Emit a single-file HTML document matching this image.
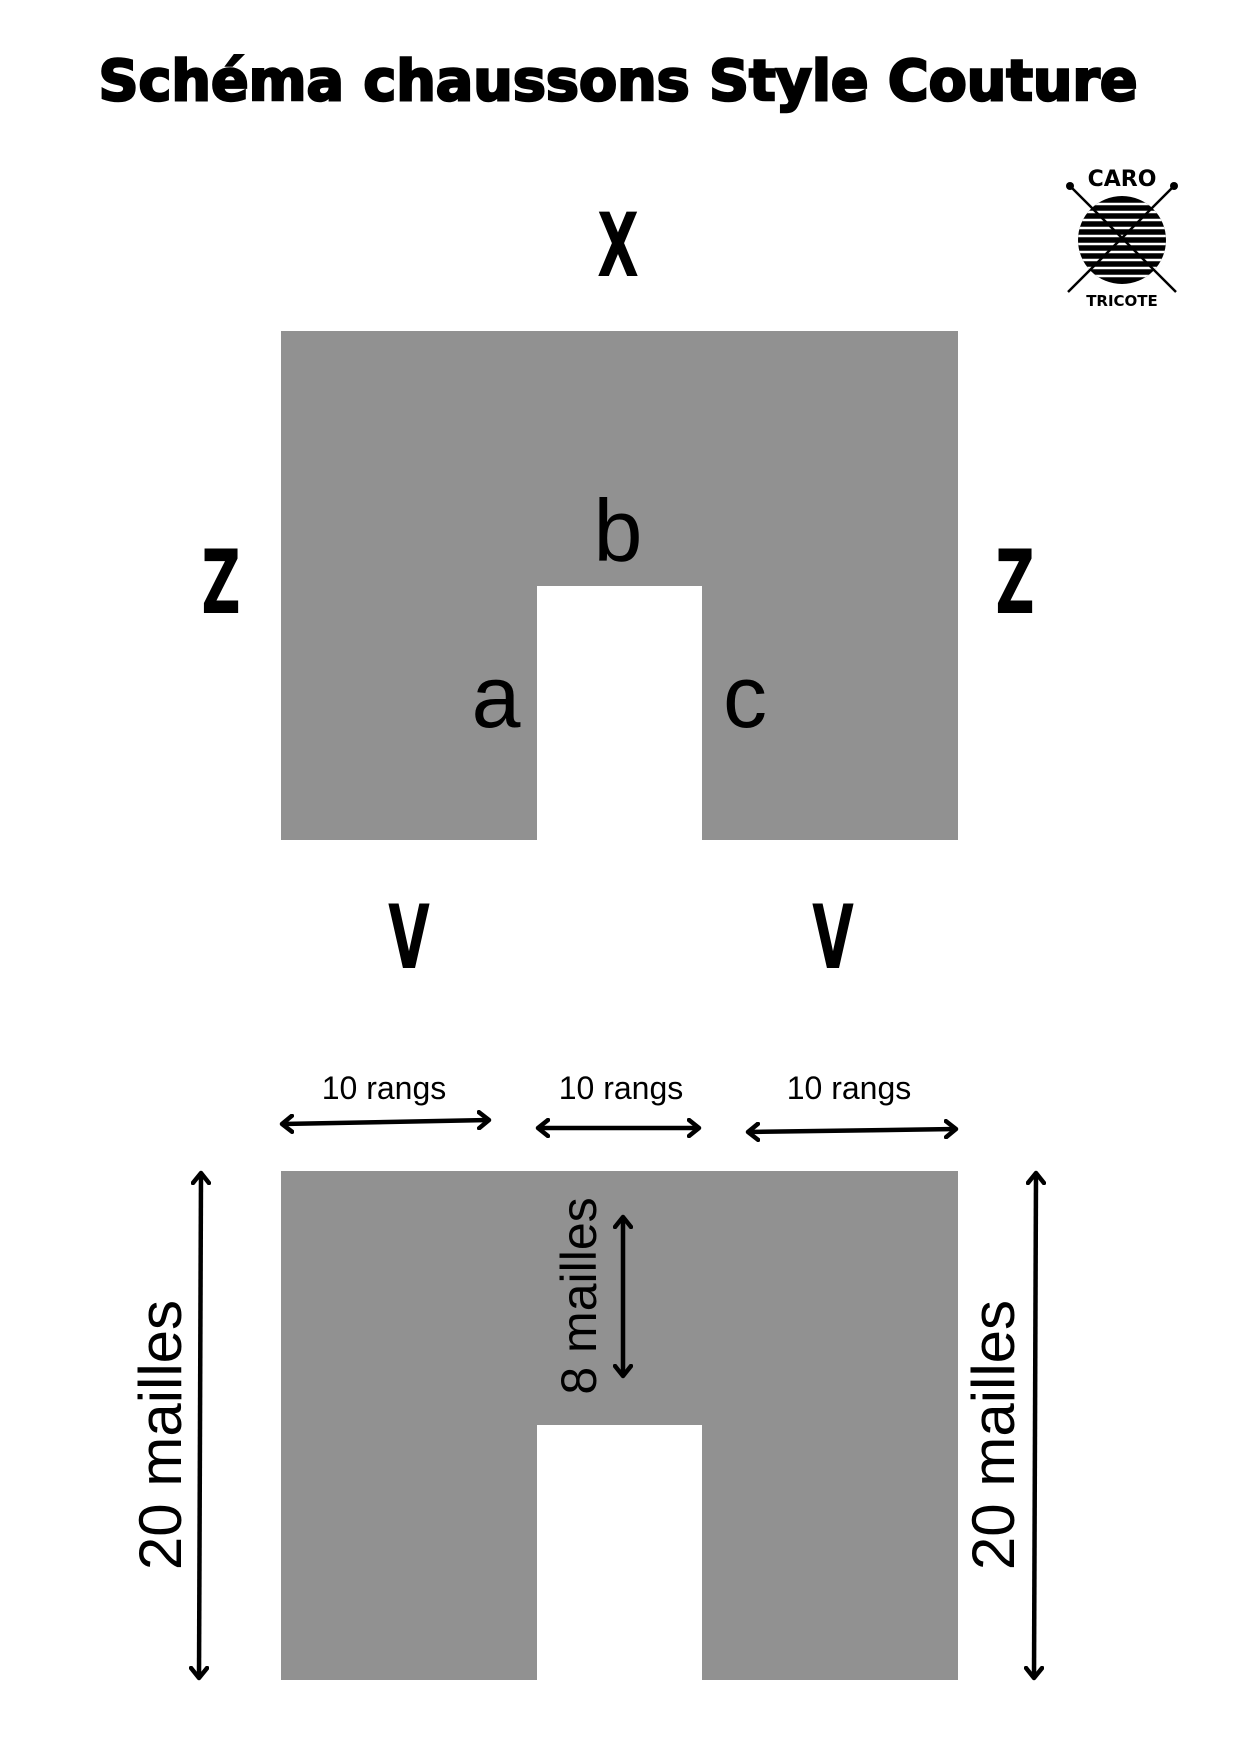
<!DOCTYPE html>
<html><head><meta charset="utf-8"><style>
html,body{margin:0;padding:0;background:#fff;}
svg{display:block;}
</style></head><body>
<svg width="1240" height="1754" viewBox="0 0 1240 1754" xmlns="http://www.w3.org/2000/svg">
<defs>
<marker id="ah" markerWidth="16" markerHeight="20" refX="12" refY="10" orient="auto-start-reverse" markerUnits="userSpaceOnUse">
<path d="M2,2 L12,10 L2,18" fill="none" stroke="#000" stroke-width="4.5" stroke-linecap="round" stroke-linejoin="round"/>
</marker>
<clipPath id="ball"><circle cx="1122" cy="240" r="44"/></clipPath>
</defs>
<rect width="1240" height="1754" fill="#fff"/>
<text x="618" y="100" text-anchor="middle" font-family="DejaVu Sans, sans-serif" font-weight="bold" font-size="56" textLength="1039" lengthAdjust="spacingAndGlyphs" fill="#000" stroke="#000" stroke-width="2.5">Schéma chaussons Style Couture</text>

<!-- logo -->
<g>
<circle cx="1122" cy="240" r="44" fill="#000"/>
<g clip-path="url(#ball)" stroke="#fff" stroke-width="2.5" fill="none">
<line x1="1070" y1="204" x2="1180" y2="204"/><line x1="1070" y1="212" x2="1180" y2="212"/><line x1="1070" y1="220" x2="1180" y2="220"/><line x1="1070" y1="228" x2="1180" y2="228"/><line x1="1070" y1="236" x2="1180" y2="236"/><line x1="1070" y1="244" x2="1180" y2="244"/><line x1="1070" y1="252" x2="1180" y2="252"/><line x1="1070" y1="260" x2="1180" y2="260"/><line x1="1070" y1="268" x2="1180" y2="268"/><line x1="1070" y1="276" x2="1180" y2="276"/>
</g>
<line x1="1070" y1="186" x2="1176" y2="292" stroke="#000" stroke-width="2.5"/>
<line x1="1174" y1="186" x2="1068" y2="292" stroke="#000" stroke-width="2.5"/>
<circle cx="1070" cy="186" r="4" fill="#000"/><circle cx="1174" cy="186" r="4" fill="#000"/>
<text x="1122" y="186" text-anchor="middle" font-family="DejaVu Sans, sans-serif" font-weight="bold" font-size="22" fill="#000">CARO</text>
<text x="1122" y="306" text-anchor="middle" font-family="DejaVu Sans, sans-serif" font-weight="bold" font-size="15" fill="#000">TRICOTE</text>
</g>

<!-- top shape -->
<path d="M281,331 H958 V840 H702 V586 H537 V840 H281 Z" fill="#919191"/>
<g font-family="DejaVu Sans Condensed, DejaVu Sans, sans-serif" font-weight="bold" font-size="88" fill="#000" text-anchor="middle">
<text transform="translate(618,276) scale(0.68,1)">X</text>
<text transform="translate(221,613) scale(0.68,1)">Z</text>
<text transform="translate(1015,613) scale(0.68,1)">Z</text>
<text transform="translate(409,968) scale(0.68,1)">V</text>
<text transform="translate(833,968) scale(0.68,1)">V</text>
</g>
<g font-family="Liberation Sans, sans-serif" font-size="88" fill="#000" text-anchor="middle">
<text x="618" y="561">b</text>
<text x="496" y="727">a</text>
<text x="745" y="727">c</text>
</g>

<!-- bottom shape -->
<path d="M281,1171 H958 V1680 H702 V1425 H537 V1680 H281 Z" fill="#919191"/>
<g font-family="Liberation Sans, sans-serif" font-size="32" fill="#000" text-anchor="middle">
<text x="384" y="1099">10 rangs</text>
<text x="621" y="1099">10 rangs</text>
<text x="849" y="1099">10 rangs</text>
</g>
<g stroke="#000" stroke-width="4.5" marker-start="url(#ah)" marker-end="url(#ah)">
<line x1="282" y1="1124" x2="489" y2="1120"/>
<line x1="538" y1="1128" x2="699" y2="1128"/>
<line x1="748" y1="1132" x2="956" y2="1129"/>
<line x1="201" y1="1173" x2="199" y2="1678"/>
<line x1="1036" y1="1173" x2="1034" y2="1678"/>
<line x1="623" y1="1217" x2="623" y2="1376"/>
</g>
<g font-family="Liberation Sans, sans-serif" fill="#000" text-anchor="middle">
<text transform="translate(181,1435) rotate(-90)" font-size="60">20 mailles</text>
<text transform="translate(1014,1435) rotate(-90)" font-size="60">20 mailles</text>
<text transform="translate(596,1296) rotate(-90)" font-size="50">8 mailles</text>
</g>
</svg>
</body></html>
